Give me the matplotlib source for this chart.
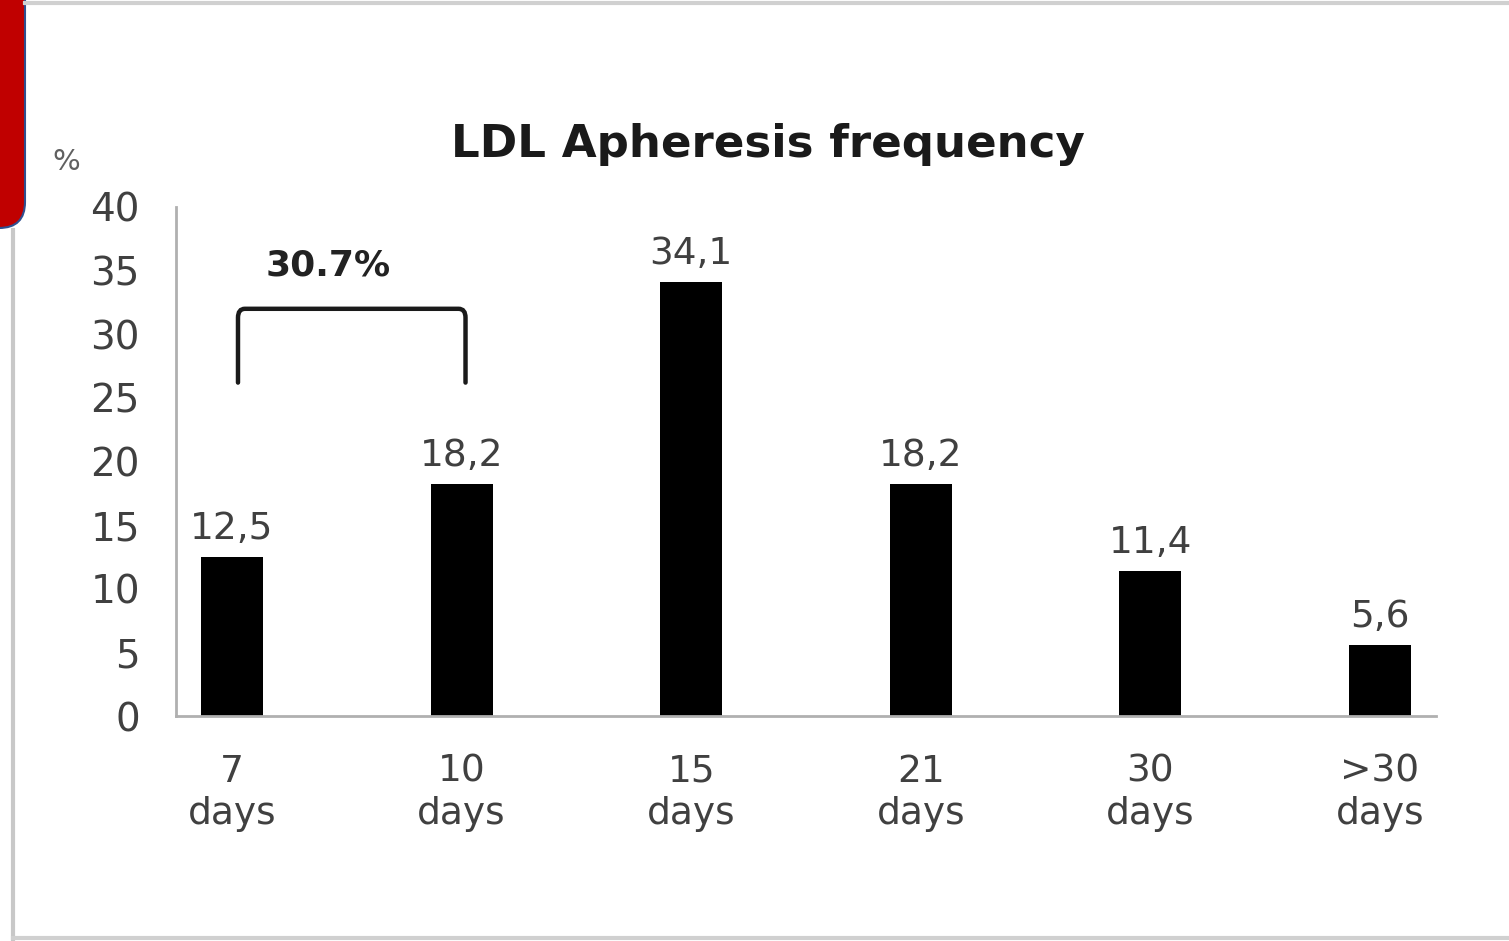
import matplotlib
matplotlib.use("Agg")
import matplotlib.pyplot as plt
from matplotlib.lines import Line2D
from matplotlib.path import Path
from matplotlib.patches import PathPatch

categories = ["7\ndays", "10\ndays", "15\ndays", "21\ndays", "30\ndays", ">30\ndays"]
values = [12.5, 18.2, 34.1, 18.2, 11.4, 5.6]
value_labels = ["12,5", "18,2", "34,1", "18,2", "11,4", "5,6"]
yticks = [0, 5, 10, 15, 20, 25, 30, 35, 40]
title = "LDL Apheresis frequency"
bracket_label = "30.7%"

W, H = 1509, 941
plt.rcParams['font.family'] = ['DejaVu Sans']
fig = plt.figure(figsize=(W/100, H/100), dpi=100)
ax = fig.add_axes([176/W, 1-716/H, (1436-176)/W, (716-207)/H])

x = list(range(len(categories)))
ax.bar(x, values, width=0.27, color="black")
txtc = "#404040"
for xi, v, lab in zip(x, values, value_labels):
    ax.text(xi, v + 0.8, lab, ha="center", va="bottom", fontsize=27, color=txtc)

ax.set_xlim(-0.244, 5.244)
ax.set_ylim(0, 40)
ax.set_yticks(yticks)
ax.set_yticklabels([str(t) for t in yticks], fontsize=28, color=txtc)
ax.set_xticks(x)
ax.set_xticklabels(categories, fontsize=27, color=txtc, linespacing=1.25)
ax.tick_params(length=0)
ax.tick_params(axis="y", pad=26)
ax.tick_params(axis="x", pad=27)
for s in ["top", "right"]:
    ax.spines[s].set_visible(False)
for s in ["left", "bottom"]:
    ax.spines[s].set_color("#b0b0b0")
    ax.spines[s].set_linewidth(2)

# bracket
x0, x1, yb, yt, r = 0.026, 1.017, 26.2, 32.0, 0.7
rx = 0.03
verts = [(x0, yb), (x0, yt - r), (x0, yt), (x0 + rx, yt), (x1 - rx, yt), (x1, yt), (x1, yt - r), (x1, yb)]
codes = [Path.MOVETO, Path.LINETO, Path.CURVE3, Path.CURVE3, Path.LINETO, Path.CURVE3, Path.CURVE3, Path.LINETO]
ax.add_patch(PathPatch(Path(verts, codes), fill=False, lw=3.2, color="#1a1a1a", capstyle="round"))
ax.text(0.42, 35.4, bracket_label, ha="center", va="center", fontsize=26, fontweight="bold", color="#222222")

fig.text(768/W, 1-144/H, title, ha="center", va="center", fontsize=32.5, fontweight="bold", color="#1a1a1a")
fig.text(66/W, 1-162/H, "%", ha="center", va="center", fontsize=21, color="#606060")

# frame lines
fig.add_artist(Line2D([25/W, 1], [1-3/H, 1-3/H], color="#d0d0d0", lw=3))
fig.add_artist(Line2D([13/W, 13/W], [0, 1-230/H], color="#c8c8c8", lw=3))
fig.add_artist(Line2D([13/W, 1], [3/H, 3/H], color="#d0d0d0", lw=3))

# red tab (pixel coords -> figure fraction)
def P(px, py):
    return (px / W, 1 - py / H)

rr = 26
tv = [P(-5, -5), P(25, -5), P(25, 228 - rr), P(25, 228), P(25 - rr, 228), P(-5, 228), P(-5, -5)]
tc = [Path.MOVETO, Path.LINETO, Path.LINETO, Path.CURVE3, Path.CURVE3, Path.LINETO, Path.CLOSEPOLY]
fig.add_artist(PathPatch(Path(tv, tc), facecolor="#c00000", edgecolor="#2f4f8f", lw=1.5,
                         transform=fig.transFigure))

fig.savefig("out.png", dpi=100)
